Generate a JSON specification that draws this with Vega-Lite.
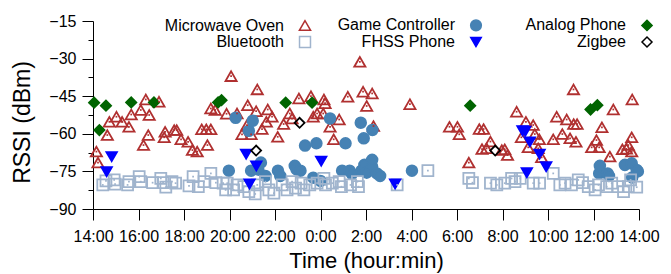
{
  "autosize": {"type": "none"},
  "width": 546,
  "height": 188,
  "padding": {"left": 93, "top": 21, "right": 32, "bottom": 65},
  "background": "white",
  "config": {
    "font": "Liberation Sans",
    "view": {"stroke": null},
    "axis": {"grid": false, "domainColor": "black", "tickColor": "black", "labelColor": "black", "titleColor": "black", "labelFont": "Liberation Sans", "titleFont": "Liberation Sans", "labelFontSize": 16, "titleFontSize": 22, "titleFontWeight": "normal"},
    "legend": {"labelFont": "Liberation Sans", "labelFontSize": 16, "labelColor": "black"}
  },
  "data": {"values": [
    {"type": "Microwave Oven", "hours": 0.15, "rssi": -67.1},
    {"type": "Microwave Oven", "hours": 0.22, "rssi": -71.5},
    {"type": "Microwave Oven", "hours": 0.63, "rssi": -60.5},
    {"type": "Microwave Oven", "hours": 0.72, "rssi": -55.2},
    {"type": "Microwave Oven", "hours": 1.03, "rssi": -53.2},
    {"type": "Microwave Oven", "hours": 1.28, "rssi": -55.2},
    {"type": "Microwave Oven", "hours": 1.58, "rssi": -57.2},
    {"type": "Microwave Oven", "hours": 1.68, "rssi": -52.3},
    {"type": "Microwave Oven", "hours": 2.1, "rssi": -50.5},
    {"type": "Microwave Oven", "hours": 2.22, "rssi": -64.5},
    {"type": "Microwave Oven", "hours": 2.32, "rssi": -46.3},
    {"type": "Microwave Oven", "hours": 2.43, "rssi": -60.5},
    {"type": "Microwave Oven", "hours": 2.47, "rssi": -52.5},
    {"type": "Microwave Oven", "hours": 2.9, "rssi": -47.2},
    {"type": "Microwave Oven", "hours": 3.13, "rssi": -61.4},
    {"type": "Microwave Oven", "hours": 3.17, "rssi": -59.2},
    {"type": "Microwave Oven", "hours": 3.57, "rssi": -58.5},
    {"type": "Microwave Oven", "hours": 3.68, "rssi": -58.5},
    {"type": "Microwave Oven", "hours": 3.87, "rssi": -62.2},
    {"type": "Microwave Oven", "hours": 4.18, "rssi": -63.2},
    {"type": "Microwave Oven", "hours": 4.37, "rssi": -66.5},
    {"type": "Microwave Oven", "hours": 4.58, "rssi": -67.1},
    {"type": "Microwave Oven", "hours": 4.78, "rssi": -58.2},
    {"type": "Microwave Oven", "hours": 4.98, "rssi": -58.2},
    {"type": "Microwave Oven", "hours": 5.03, "rssi": -64.5},
    {"type": "Microwave Oven", "hours": 5.18, "rssi": -58.2},
    {"type": "Microwave Oven", "hours": 5.18, "rssi": -49.9},
    {"type": "Microwave Oven", "hours": 5.37, "rssi": -50.5},
    {"type": "Microwave Oven", "hours": 5.87, "rssi": -52.0},
    {"type": "Microwave Oven", "hours": 6.07, "rssi": -37.0},
    {"type": "Microwave Oven", "hours": 6.33, "rssi": -51.9},
    {"type": "Microwave Oven", "hours": 6.55, "rssi": -60.2},
    {"type": "Microwave Oven", "hours": 6.77, "rssi": -56.5},
    {"type": "Microwave Oven", "hours": 6.8, "rssi": -48.6},
    {"type": "Microwave Oven", "hours": 6.95, "rssi": -60.2},
    {"type": "Microwave Oven", "hours": 7.17, "rssi": -51.0},
    {"type": "Microwave Oven", "hours": 7.22, "rssi": -42.3},
    {"type": "Microwave Oven", "hours": 7.43, "rssi": -58.1},
    {"type": "Microwave Oven", "hours": 7.62, "rssi": -55.2},
    {"type": "Microwave Oven", "hours": 7.68, "rssi": -50.3},
    {"type": "Microwave Oven", "hours": 7.87, "rssi": -53.2},
    {"type": "Microwave Oven", "hours": 8.12, "rssi": -61.2},
    {"type": "Microwave Oven", "hours": 8.38, "rssi": -56.1},
    {"type": "Microwave Oven", "hours": 8.65, "rssi": -51.9},
    {"type": "Microwave Oven", "hours": 8.75, "rssi": -53.9},
    {"type": "Microwave Oven", "hours": 9.05, "rssi": -45.9},
    {"type": "Microwave Oven", "hours": 9.58, "rssi": -45.0},
    {"type": "Microwave Oven", "hours": 9.68, "rssi": -53.2},
    {"type": "Microwave Oven", "hours": 9.85, "rssi": -51.9},
    {"type": "Microwave Oven", "hours": 10.12, "rssi": -51.9},
    {"type": "Microwave Oven", "hours": 10.15, "rssi": -46.3},
    {"type": "Microwave Oven", "hours": 10.2, "rssi": -47.8},
    {"type": "Microwave Oven", "hours": 10.42, "rssi": -57.2},
    {"type": "Microwave Oven", "hours": 10.58, "rssi": -62.2},
    {"type": "Microwave Oven", "hours": 10.82, "rssi": -54.3},
    {"type": "Microwave Oven", "hours": 11.2, "rssi": -45.2},
    {"type": "Microwave Oven", "hours": 11.73, "rssi": -31.3},
    {"type": "Microwave Oven", "hours": 11.87, "rssi": -43.2},
    {"type": "Microwave Oven", "hours": 12.03, "rssi": -48.9},
    {"type": "Microwave Oven", "hours": 12.27, "rssi": -43.9},
    {"type": "Microwave Oven", "hours": 12.33, "rssi": -56.9},
    {"type": "Microwave Oven", "hours": 13.93, "rssi": -48.2},
    {"type": "Microwave Oven", "hours": 15.67, "rssi": -57.2},
    {"type": "Microwave Oven", "hours": 16.02, "rssi": -57.2},
    {"type": "Microwave Oven", "hours": 16.1, "rssi": -60.2},
    {"type": "Microwave Oven", "hours": 16.52, "rssi": -71.5},
    {"type": "Microwave Oven", "hours": 16.98, "rssi": -58.1},
    {"type": "Microwave Oven", "hours": 17.1, "rssi": -66.1},
    {"type": "Microwave Oven", "hours": 17.17, "rssi": -58.1},
    {"type": "Microwave Oven", "hours": 17.3, "rssi": -65.8},
    {"type": "Microwave Oven", "hours": 17.47, "rssi": -63.1},
    {"type": "Microwave Oven", "hours": 17.97, "rssi": -66.5},
    {"type": "Microwave Oven", "hours": 18.1, "rssi": -66.2},
    {"type": "Microwave Oven", "hours": 18.22, "rssi": -68.5},
    {"type": "Microwave Oven", "hours": 18.62, "rssi": -51.2},
    {"type": "Microwave Oven", "hours": 18.83, "rssi": -61.4},
    {"type": "Microwave Oven", "hours": 19.03, "rssi": -55.2},
    {"type": "Microwave Oven", "hours": 19.13, "rssi": -65.4},
    {"type": "Microwave Oven", "hours": 19.35, "rssi": -56.5},
    {"type": "Microwave Oven", "hours": 19.42, "rssi": -60.1},
    {"type": "Microwave Oven", "hours": 19.57, "rssi": -65.8},
    {"type": "Microwave Oven", "hours": 19.62, "rssi": -62.2},
    {"type": "Microwave Oven", "hours": 19.72, "rssi": -69.4},
    {"type": "Microwave Oven", "hours": 20.23, "rssi": -62.2},
    {"type": "Microwave Oven", "hours": 20.38, "rssi": -53.2},
    {"type": "Microwave Oven", "hours": 20.63, "rssi": -60.1},
    {"type": "Microwave Oven", "hours": 20.82, "rssi": -54.3},
    {"type": "Microwave Oven", "hours": 20.97, "rssi": -61.8},
    {"type": "Microwave Oven", "hours": 21.12, "rssi": -42.3},
    {"type": "Microwave Oven", "hours": 21.13, "rssi": -56.1},
    {"type": "Microwave Oven", "hours": 21.23, "rssi": -63.2},
    {"type": "Microwave Oven", "hours": 21.28, "rssi": -56.1},
    {"type": "Microwave Oven", "hours": 21.92, "rssi": -65.4},
    {"type": "Microwave Oven", "hours": 22.13, "rssi": -62.5},
    {"type": "Microwave Oven", "hours": 22.25, "rssi": -65.4},
    {"type": "Microwave Oven", "hours": 22.37, "rssi": -57.4},
    {"type": "Microwave Oven", "hours": 22.72, "rssi": -69.1},
    {"type": "Microwave Oven", "hours": 22.87, "rssi": -50.3},
    {"type": "Microwave Oven", "hours": 23.27, "rssi": -66.2},
    {"type": "Microwave Oven", "hours": 23.45, "rssi": -66.0},
    {"type": "Microwave Oven", "hours": 23.53, "rssi": -64.5},
    {"type": "Microwave Oven", "hours": 23.68, "rssi": -61.4},
    {"type": "Microwave Oven", "hours": 23.68, "rssi": -67.1},
    {"type": "Microwave Oven", "hours": 23.7, "rssi": -46.3},
    {"type": "Game Controller", "hours": 5.97, "rssi": -74.7},
    {"type": "Game Controller", "hours": 6.27, "rssi": -53.6},
    {"type": "Game Controller", "hours": 6.85, "rssi": -58.8},
    {"type": "Game Controller", "hours": 6.95, "rssi": -74.7},
    {"type": "Game Controller", "hours": 7.02, "rssi": -54.8},
    {"type": "Game Controller", "hours": 7.27, "rssi": -74.3},
    {"type": "Game Controller", "hours": 7.38, "rssi": -71.5},
    {"type": "Game Controller", "hours": 7.58, "rssi": -76.8},
    {"type": "Game Controller", "hours": 8.13, "rssi": -74.7},
    {"type": "Game Controller", "hours": 8.23, "rssi": -76.8},
    {"type": "Game Controller", "hours": 8.87, "rssi": -72.8},
    {"type": "Game Controller", "hours": 8.95, "rssi": -74.2},
    {"type": "Game Controller", "hours": 9.12, "rssi": -74.7},
    {"type": "Game Controller", "hours": 9.32, "rssi": -64.7},
    {"type": "Game Controller", "hours": 9.68, "rssi": -77.5},
    {"type": "Game Controller", "hours": 9.82, "rssi": -63.8},
    {"type": "Game Controller", "hours": 10.0, "rssi": -78.8},
    {"type": "Game Controller", "hours": 10.42, "rssi": -53.9},
    {"type": "Game Controller", "hours": 10.95, "rssi": -74.7},
    {"type": "Game Controller", "hours": 11.1, "rssi": -63.8},
    {"type": "Game Controller", "hours": 11.28, "rssi": -74.7},
    {"type": "Game Controller", "hours": 11.38, "rssi": -76.0},
    {"type": "Game Controller", "hours": 11.77, "rssi": -55.6},
    {"type": "Game Controller", "hours": 11.8, "rssi": -74.7},
    {"type": "Game Controller", "hours": 11.9, "rssi": -61.8},
    {"type": "Game Controller", "hours": 11.93, "rssi": -72.4},
    {"type": "Game Controller", "hours": 12.03, "rssi": -75.5},
    {"type": "Game Controller", "hours": 12.27, "rssi": -73.1},
    {"type": "Game Controller", "hours": 12.27, "rssi": -70.4},
    {"type": "Game Controller", "hours": 12.28, "rssi": -58.5},
    {"type": "Game Controller", "hours": 12.48, "rssi": -75.8},
    {"type": "Game Controller", "hours": 12.62, "rssi": -76.8},
    {"type": "Game Controller", "hours": 14.02, "rssi": -74.7},
    {"type": "Game Controller", "hours": 22.25, "rssi": -75.8},
    {"type": "Game Controller", "hours": 22.28, "rssi": -72.8},
    {"type": "Game Controller", "hours": 22.62, "rssi": -75.8},
    {"type": "Game Controller", "hours": 22.68, "rssi": -76.8},
    {"type": "Game Controller", "hours": 23.38, "rssi": -72.4},
    {"type": "Game Controller", "hours": 23.68, "rssi": -71.8},
    {"type": "Game Controller", "hours": 23.7, "rssi": -77.4},
    {"type": "Game Controller", "hours": 23.9, "rssi": -74.4},
    {"type": "Game Controller", "hours": 23.95, "rssi": -75.0},
    {"type": "Analog Phone", "hours": 0.05, "rssi": -47.6},
    {"type": "Analog Phone", "hours": 0.28, "rssi": -58.5},
    {"type": "Analog Phone", "hours": 0.57, "rssi": -48.8},
    {"type": "Analog Phone", "hours": 1.68, "rssi": -47.5},
    {"type": "Analog Phone", "hours": 2.68, "rssi": -47.5},
    {"type": "Analog Phone", "hours": 5.5, "rssi": -47.5},
    {"type": "Analog Phone", "hours": 5.65, "rssi": -46.6},
    {"type": "Analog Phone", "hours": 8.47, "rssi": -47.6},
    {"type": "Analog Phone", "hours": 9.63, "rssi": -47.6},
    {"type": "Analog Phone", "hours": 16.58, "rssi": -48.8},
    {"type": "Analog Phone", "hours": 21.87, "rssi": -50.3},
    {"type": "Analog Phone", "hours": 22.17, "rssi": -48.6},
    {"type": "Bluetooth", "hours": 0.43, "rssi": -80.4},
    {"type": "Bluetooth", "hours": 0.57, "rssi": -78.8},
    {"type": "Bluetooth", "hours": 0.93, "rssi": -78.4},
    {"type": "Bluetooth", "hours": 0.97, "rssi": -80.1},
    {"type": "Bluetooth", "hours": 1.52, "rssi": -80.4},
    {"type": "Bluetooth", "hours": 1.58, "rssi": -79.1},
    {"type": "Bluetooth", "hours": 2.03, "rssi": -77.1},
    {"type": "Bluetooth", "hours": 2.1, "rssi": -79.1},
    {"type": "Bluetooth", "hours": 2.62, "rssi": -79.5},
    {"type": "Bluetooth", "hours": 2.98, "rssi": -77.8},
    {"type": "Bluetooth", "hours": 3.08, "rssi": -79.5},
    {"type": "Bluetooth", "hours": 3.2, "rssi": -81.3},
    {"type": "Bluetooth", "hours": 3.47, "rssi": -79.1},
    {"type": "Bluetooth", "hours": 3.63, "rssi": -79.7},
    {"type": "Bluetooth", "hours": 4.22, "rssi": -80.8},
    {"type": "Bluetooth", "hours": 4.4, "rssi": -77.1},
    {"type": "Bluetooth", "hours": 4.63, "rssi": -81.1},
    {"type": "Bluetooth", "hours": 4.88, "rssi": -79.1},
    {"type": "Bluetooth", "hours": 5.18, "rssi": -75.8},
    {"type": "Bluetooth", "hours": 5.4, "rssi": -79.5},
    {"type": "Bluetooth", "hours": 5.72, "rssi": -79.7},
    {"type": "Bluetooth", "hours": 5.83, "rssi": -82.4},
    {"type": "Bluetooth", "hours": 5.9, "rssi": -79.7},
    {"type": "Bluetooth", "hours": 6.18, "rssi": -82.4},
    {"type": "Bluetooth", "hours": 6.33, "rssi": -80.4},
    {"type": "Bluetooth", "hours": 6.63, "rssi": -81.1},
    {"type": "Bluetooth", "hours": 6.85, "rssi": -83.1},
    {"type": "Bluetooth", "hours": 7.13, "rssi": -84.0},
    {"type": "Bluetooth", "hours": 7.22, "rssi": -80.4},
    {"type": "Bluetooth", "hours": 7.58, "rssi": -79.1},
    {"type": "Bluetooth", "hours": 7.73, "rssi": -82.4},
    {"type": "Bluetooth", "hours": 7.95, "rssi": -83.7},
    {"type": "Bluetooth", "hours": 8.32, "rssi": -80.4},
    {"type": "Bluetooth", "hours": 8.53, "rssi": -82.4},
    {"type": "Bluetooth", "hours": 8.75, "rssi": -79.1},
    {"type": "Bluetooth", "hours": 8.9, "rssi": -81.7},
    {"type": "Bluetooth", "hours": 9.15, "rssi": -79.7},
    {"type": "Bluetooth", "hours": 9.27, "rssi": -82.4},
    {"type": "Bluetooth", "hours": 9.53, "rssi": -80.4},
    {"type": "Bluetooth", "hours": 9.85, "rssi": -79.7},
    {"type": "Bluetooth", "hours": 10.15, "rssi": -77.8},
    {"type": "Bluetooth", "hours": 10.22, "rssi": -80.4},
    {"type": "Bluetooth", "hours": 10.52, "rssi": -79.7},
    {"type": "Bluetooth", "hours": 10.82, "rssi": -79.1},
    {"type": "Bluetooth", "hours": 10.92, "rssi": -81.1},
    {"type": "Bluetooth", "hours": 11.32, "rssi": -80.4},
    {"type": "Bluetooth", "hours": 11.62, "rssi": -79.1},
    {"type": "Bluetooth", "hours": 11.67, "rssi": -81.1},
    {"type": "Bluetooth", "hours": 13.37, "rssi": -80.4},
    {"type": "Bluetooth", "hours": 14.72, "rssi": -74.7},
    {"type": "Bluetooth", "hours": 16.52, "rssi": -77.8},
    {"type": "Bluetooth", "hours": 16.68, "rssi": -79.5},
    {"type": "Bluetooth", "hours": 17.47, "rssi": -79.7},
    {"type": "Bluetooth", "hours": 17.75, "rssi": -80.4},
    {"type": "Bluetooth", "hours": 18.1, "rssi": -79.7},
    {"type": "Bluetooth", "hours": 18.4, "rssi": -77.8},
    {"type": "Bluetooth", "hours": 18.55, "rssi": -79.1},
    {"type": "Bluetooth", "hours": 18.78, "rssi": -77.8},
    {"type": "Bluetooth", "hours": 19.35, "rssi": -79.7},
    {"type": "Bluetooth", "hours": 19.63, "rssi": -79.7},
    {"type": "Bluetooth", "hours": 20.23, "rssi": -75.8},
    {"type": "Bluetooth", "hours": 20.52, "rssi": -80.4},
    {"type": "Bluetooth", "hours": 20.75, "rssi": -79.7},
    {"type": "Bluetooth", "hours": 21.03, "rssi": -80.4},
    {"type": "Bluetooth", "hours": 21.33, "rssi": -78.4},
    {"type": "Bluetooth", "hours": 21.52, "rssi": -79.5},
    {"type": "Bluetooth", "hours": 21.77, "rssi": -81.1},
    {"type": "Bluetooth", "hours": 22.07, "rssi": -82.4},
    {"type": "Bluetooth", "hours": 22.22, "rssi": -80.4},
    {"type": "Bluetooth", "hours": 22.58, "rssi": -81.1},
    {"type": "Bluetooth", "hours": 22.8, "rssi": -79.7},
    {"type": "Bluetooth", "hours": 23.08, "rssi": -81.1},
    {"type": "Bluetooth", "hours": 23.32, "rssi": -83.1},
    {"type": "Bluetooth", "hours": 23.53, "rssi": -81.1},
    {"type": "Bluetooth", "hours": 23.63, "rssi": -78.4},
    {"type": "Bluetooth", "hours": 23.9, "rssi": -81.3},
    {"type": "FHSS Phone", "hours": 0.6, "rssi": -75.1},
    {"type": "FHSS Phone", "hours": 0.82, "rssi": -69.1},
    {"type": "FHSS Phone", "hours": 6.73, "rssi": -68.1},
    {"type": "FHSS Phone", "hours": 6.88, "rssi": -80.0},
    {"type": "FHSS Phone", "hours": 7.18, "rssi": -72.8},
    {"type": "FHSS Phone", "hours": 10.03, "rssi": -70.9},
    {"type": "FHSS Phone", "hours": 13.28, "rssi": -80.0},
    {"type": "FHSS Phone", "hours": 18.88, "rssi": -58.8},
    {"type": "FHSS Phone", "hours": 19.0, "rssi": -59.0},
    {"type": "FHSS Phone", "hours": 19.07, "rssi": -75.5},
    {"type": "FHSS Phone", "hours": 19.2, "rssi": -63.2},
    {"type": "FHSS Phone", "hours": 19.63, "rssi": -68.1},
    {"type": "FHSS Phone", "hours": 19.92, "rssi": -73.1},
    {"type": "Zigbee", "hours": 7.17, "rssi": -66.7},
    {"type": "Zigbee", "hours": 9.08, "rssi": -55.6},
    {"type": "Zigbee", "hours": 17.68, "rssi": -66.7}
  ]},
  "encoding": {
    "x": {"field": "hours", "type": "quantitative", "title": "Time (hour:min)",
      "scale": {"domain": [0, 24], "nice": false, "zero": false},
      "axis": {"values": [0, 2, 4, 6, 8, 10, 12, 14, 16, 18, 20, 22, 24],
        "labelExpr": "((datum.value + 14) % 24) + ':00'",
        "tickSize": 11, "labelPadding": 8, "titlePadding": 6, "labelFlush": false, "labelOverlap": false}},
    "y": {"field": "rssi", "type": "quantitative", "title": "RSSI (dBm)",
      "scale": {"domain": [-90, -15], "nice": false, "zero": false},
      "axis": {"values": [-90, -82.5, -75, -67.5, -60, -52.5, -45, -37.5, -30, -22.5, -15],
        "labelExpr": "datum.value % 15 === 0 ? datum.label : ''",
        "tickSize": {"condition": {"test": "datum.value % 15 === 0", "value": 11}, "value": 5},
        "labelPadding": 6, "titlePadding": 14, "titleFontSize": 23, "titleY": 101, "labelOverlap": false}}
  },
  "layer": [
    {
      "mark": {"type": "point", "opacity": 1, "strokeWidth": 1.8},
      "encoding": {
        "shape": {"field": "type", "type": "nominal",
          "scale": {"domain": ["Microwave Oven", "Bluetooth", "Game Controller", "FHSS Phone", "Analog Phone", "Zigbee"],
            "range": ["triangle-up", "square", "circle", "triangle-down", "diamond", "diamond"]},
          "legend": {"title": null, "orient": "none", "legendX": 204, "legendY": -4, "columns": 3, "gridAlign": "all",
            "columnPadding": 23, "rowPadding": -8, "labelAlign": "right", "labelOffset": -29}},
        "fill": {"field": "type", "type": "nominal",
          "scale": {"domain": ["Microwave Oven", "Bluetooth", "Game Controller", "FHSS Phone", "Analog Phone", "Zigbee"],
            "range": ["transparent", "transparent", "#4682b4", "#0000ff", "#006400", "transparent"]}},
        "stroke": {"field": "type", "type": "nominal",
          "scale": {"domain": ["Microwave Oven", "Bluetooth", "Game Controller", "FHSS Phone", "Analog Phone", "Zigbee"],
            "range": ["#b03030", "#a0b4cd", "#4682b4", "#0000ff", "#006400", "#000000"]}},
        "size": {"field": "type", "type": "nominal",
          "scale": {"domain": ["Microwave Oven", "Bluetooth", "Game Controller", "FHSS Phone", "Analog Phone", "Zigbee"],
            "range": [125, 100, 70, 75, 135, 45]}}
      }
    },
    {
      "transform": [{"filter": "datum.type === 'Microwave Oven' || datum.type === 'Bluetooth'"}],
      "mark": {"type": "point", "filled": true, "size": 3, "shape": "square", "opacity": 1},
      "encoding": {
        "color": {"condition": {"test": "datum.type === 'Bluetooth'", "value": "#a0b4cd"}, "value": "#b03030"}
      }
    }
  ]
}
